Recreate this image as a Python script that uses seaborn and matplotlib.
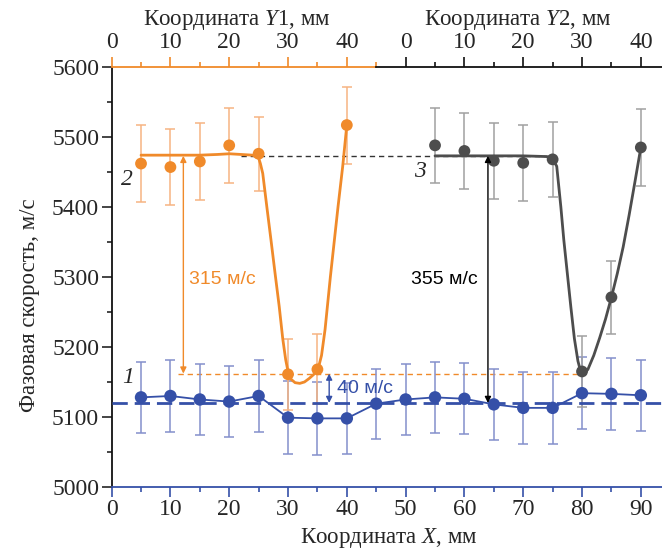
import matplotlib
matplotlib.use("Agg")
import matplotlib.pyplot as plt
from matplotlib.ticker import MultipleLocator, FixedLocator, FixedFormatter
import seaborn as sns

# ---------------- data ----------------
# curve 1 (blue), coordinate X
x_blue = [5, 10, 15, 20, 25, 30, 35, 40, 45, 50, 55, 60, 65, 70, 75, 80, 85, 90]
v_blue = [5128, 5130, 5125, 5122, 5130, 5099, 5098, 5098, 5119, 5125, 5128, 5126, 5118, 5113, 5113, 5134, 5133, 5131]
e_blue = [51, 51, 51, 51, 51, 52, 52, 51, 50, 51, 51, 51, 51, 51, 51, 51, 51, 51]

# curve 2 (orange), coordinate Y1 (same scale as X)
x_orange = [5, 10, 15, 20, 25, 30, 35, 40]
v_orange = [5462, 5457, 5465, 5488, 5476, 5161, 5168, 5517]
e_orange = [55, 54, 55, 54, 53, 51, 50, 55]
# fitted orange curve
xc_orange = [5, 10, 15, 18, 20, 22, 24, 25, 25.3, 25.7, 26.4, 27.1, 27.8, 28.5, 29.1, 29.6, 30.0,
             30.5, 31.2, 32.0, 32.8, 33.6, 34.4, 35.1, 35.7, 36.3, 37.2, 38.5, 39.3, 40]
vc_orange = [5474, 5474, 5474, 5475, 5476, 5475, 5474, 5470, 5462, 5448, 5400, 5353, 5305, 5258, 5212, 5182, 5165,
             5154, 5149, 5148, 5150, 5155, 5161, 5168, 5188, 5225, 5300, 5400, 5458, 5517]

# curve 3 (gray), coordinate Y2 = X - 50
x_gray = [55, 60, 65, 70, 75, 80, 85, 90]
v_gray = [5488, 5480, 5466, 5463, 5468, 5165, 5271, 5485]
e_gray = [54, 54, 54, 54, 54, 51, 52, 55]
xc_gray = [55, 60, 65, 70, 74, 75, 75.7, 76.4, 76.9, 77.5, 78.1, 78.7, 79.3, 79.7, 80.0, 80.5, 81.0,
           82.0, 83.0, 84.0, 85.0, 86.0, 87.0, 88.0, 89.0, 90]
vc_gray = [5473, 5473, 5473, 5473, 5472, 5469, 5458, 5400, 5353, 5305, 5257, 5212, 5180, 5167, 5162, 5163, 5168,
           5188, 5213, 5240, 5271, 5305, 5343, 5388, 5436, 5485]

# reference levels
level_1 = 5120
level_top = 5473
level_min = 5162

ticks_bottom = [0, 10, 20, 30, 40, 50, 60, 70, 80, 90]
ticks_y1 = [0, 10, 20, 30, 40]
ticks_y2_pos = [50, 60, 70, 80, 90]
ticks_y2_lab = ["0", "10", "20", "30", "40"]

ORANGE = "#F08A2A"
ORANGE_L = "#F6B482"
BLUE = "#3550A8"
BLUE_L = "#8490CC"
GRAY = "#4D4D4D"
GRAY_L = "#A0A0A0"

# ---------------- style ----------------
sns.set_style("ticks")
plt.rcParams["font.family"] = ["Liberation Serif", "DejaVu Serif"]
plt.rcParams["mathtext.fontset"] = "custom"
plt.rcParams["mathtext.rm"] = "Liberation Serif"
plt.rcParams["mathtext.it"] = "Liberation Serif:italic"

TICK_FS = 17
LABEL_FS = 16.5

XMAX = 93.6
fig = plt.figure(figsize=(6.62, 5.52), dpi=100)
ax = fig.add_axes([0.1686, 0.1178, 0.8314, 0.7609])
ax.set_xlim(0, XMAX)
ax.set_ylim(5000, 5600)

# reference dashed lines
ax.plot([0, XMAX], [level_1, level_1], color=BLUE, lw=2.0, ls=(0, (5.5, 2.5)), zorder=4)
ax.plot([22, 75], [level_top, level_top], color="#333333", lw=1.0, ls=(0, (3.8, 2.8)), zorder=2)
ax.plot([11.3, 80], [level_min, level_min], color=ORANGE, lw=1.0, ls=(0, (3.8, 2.8)), zorder=2)

# error bars
ax.errorbar(x_blue, v_blue, yerr=e_blue, fmt="none", ecolor=BLUE_L, elinewidth=1.1, capsize=3.5, capthick=1.1, zorder=3)
ax.errorbar(x_orange, v_orange, yerr=e_orange, fmt="none", ecolor=ORANGE_L, elinewidth=1.1, capsize=3.5, capthick=1.1, zorder=3)
ax.errorbar(x_gray, v_gray, yerr=e_gray, fmt="none", ecolor=GRAY_L, elinewidth=1.1, capsize=3.5, capthick=1.1, zorder=3)

# curves
sns.lineplot(x=x_blue, y=v_blue, color=BLUE, lw=1.3, ax=ax, zorder=5, sort=False, estimator=None)
sns.lineplot(x=xc_orange, y=vc_orange, color=ORANGE, lw=2.0, ax=ax, zorder=5, sort=False, estimator=None)
sns.lineplot(x=xc_gray, y=vc_gray, color=GRAY, lw=2.0, ax=ax, zorder=5, sort=False, estimator=None)

# points
sns.scatterplot(x=x_blue, y=v_blue, color=BLUE, s=80, edgecolor="none", ax=ax, zorder=6)
sns.scatterplot(x=x_orange, y=v_orange, color=ORANGE, s=72, edgecolor="none", ax=ax, zorder=6)
sns.scatterplot(x=x_gray, y=v_gray, color=GRAY, s=72, edgecolor="none", ax=ax, zorder=6)

# arrows
arrow_kw = dict(arrowstyle="<|-|>", mutation_scale=9, shrinkA=0, shrinkB=0, lw=1.0)
ax.annotate("", xy=(12.2, level_top), xytext=(12.2, level_min),
            arrowprops=dict(color=ORANGE, **arrow_kw), zorder=7)
ax.annotate("", xy=(64.0, level_top), xytext=(64.0, level_1),
            arrowprops=dict(color="black", **arrow_kw), zorder=7)
ax.annotate("", xy=(37.0, level_min), xytext=(37.0, level_1),
            arrowprops=dict(color=BLUE, **arrow_kw), zorder=7)

sans = ["Liberation Sans", "DejaVu Sans"]
ax.text(13.2, 5296, "315 м/с", color=ORANGE, fontsize=14, family=sans, ha="left", va="center")
ax.text(62.3, 5296, "355 м/с", color="black", fontsize=14, family=sans, ha="right", va="center")
ax.text(38.3, 5140, "40 м/с", color=BLUE, fontsize=14, family=sans, ha="left", va="center")

ax.text(2.8, 5157, "1", fontsize=17, style="italic", ha="center", va="center")
ax.text(2.6, 5439, "2", fontsize=17, style="italic", ha="center", va="center")
ax.text(52.4, 5450, "3", fontsize=17, style="italic", ha="center", va="center")

# main axes styling
ax.xaxis.set_major_locator(FixedLocator(ticks_bottom))
ax.xaxis.set_minor_locator(MultipleLocator(5))
ax.yaxis.set_major_locator(MultipleLocator(100))
ax.yaxis.set_minor_locator(MultipleLocator(50))
ax.tick_params(axis="both", which="major", direction="out", length=7, width=1.2, labelsize=TICK_FS, pad=2)
ax.tick_params(axis="both", which="minor", direction="out", length=3.5, width=1.2)
ax.tick_params(axis="x", which="both", color=BLUE)
ax.spines["right"].set_visible(False)
ax.spines["top"].set_visible(False)
ax.spines["bottom"].set_color(BLUE)
ax.spines["bottom"].set_linewidth(1.3)
ax.spines["left"].set_linewidth(1.3)
ax.spines["left"].set_color("#111111")

ax.set_xlabel("Координата $\\mathit{X}$, мм", fontsize=LABEL_FS)
ax.xaxis.set_label_coords(0.504, -0.094)
ax.set_ylabel("Фазовая скорость, м/с", fontsize=LABEL_FS)
ax.yaxis.set_label_coords(-0.131, 0.433)

# top axis Y1 (orange part)
t1 = ax.twiny()
t1.set_xlim(0, XMAX)
t1.xaxis.set_major_locator(FixedLocator(ticks_y1))
t1.xaxis.set_minor_locator(FixedLocator([5, 15, 25, 35, 45]))
for s in ["left", "right", "bottom"]:
    t1.spines[s].set_visible(False)
t1.spines["top"].set_bounds(0, 45)
t1.spines["top"].set_color(ORANGE)
t1.spines["top"].set_linewidth(1.3)
t1.tick_params(axis="x", which="major", direction="out", length=7, width=1.2, color=ORANGE, labelsize=TICK_FS, pad=3)
t1.tick_params(axis="x", which="minor", direction="out", length=3.5, width=1.2, color=ORANGE)

# top axis Y2 (black part)
t2 = ax.twiny()
t2.set_xlim(0, XMAX)
t2.xaxis.set_major_locator(FixedLocator(ticks_y2_pos))
t2.xaxis.set_major_formatter(FixedFormatter(ticks_y2_lab))
t2.xaxis.set_minor_locator(FixedLocator([55, 65, 75, 85]))
for s in ["left", "right", "bottom"]:
    t2.spines[s].set_visible(False)
t2.spines["top"].set_bounds(45, XMAX)
t2.spines["top"].set_color("#111111")
t2.spines["top"].set_linewidth(1.3)
t2.tick_params(axis="x", which="major", direction="out", length=7, width=1.2, color="#111111", labelsize=TICK_FS, pad=3)
t2.tick_params(axis="x", which="minor", direction="out", length=3.5, width=1.2, color="#111111")

ax.text(21.3, 1.112, "Координата $\\mathit{Y}$1, мм", transform=ax.get_xaxis_transform(),
        fontsize=LABEL_FS, ha="center", va="center")
ax.text(69.0, 1.112, "Координата $\\mathit{Y}$2, мм", transform=ax.get_xaxis_transform(),
        fontsize=LABEL_FS, ha="center", va="center")

fig.savefig("out.png", dpi=100)
